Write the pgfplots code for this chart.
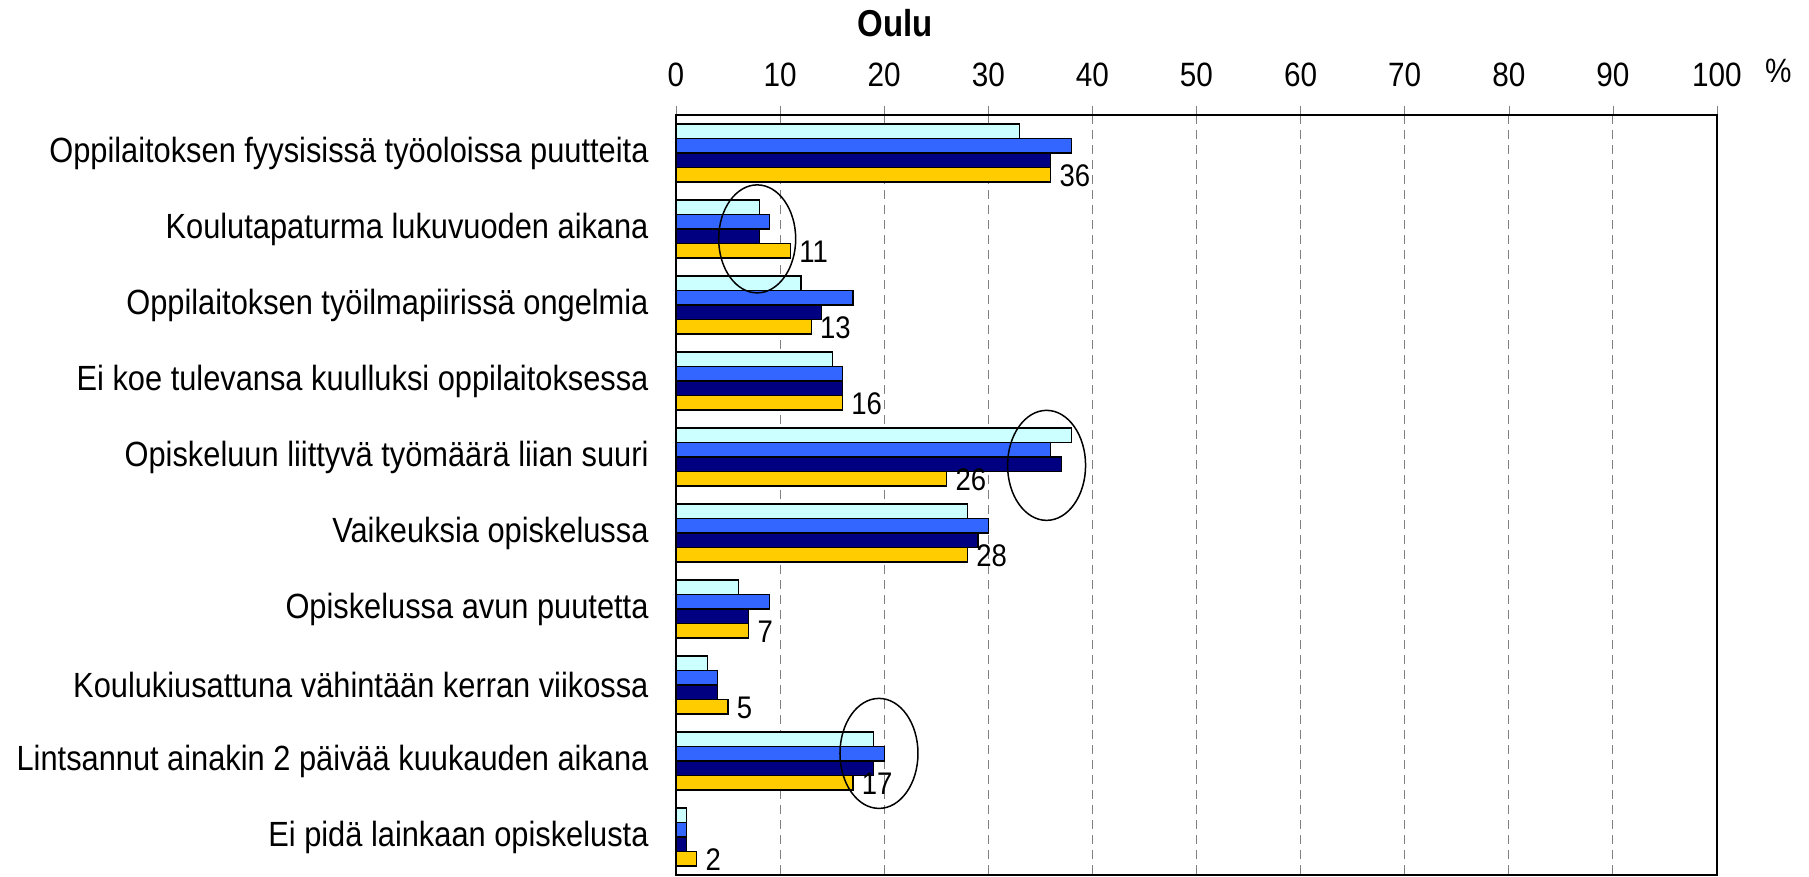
\documentclass[border=0pt]{standalone}
\usepackage{pgfplots}
\pgfplotsset{compat=1.18}
\usepackage{fontspec}
\setmainfont{Liberation Sans}[FakeStretch=0.88]
\definecolor{cA}{RGB}{204,255,255}
\definecolor{cB}{RGB}{51,102,255}
\definecolor{cC}{RGB}{0,0,128}
\definecolor{cD}{RGB}{255,204,0}
\begin{document}
\begin{tikzpicture}
\begin{axis}[
  scale only axis, width=416.4pt, height=304pt,
  bar width=5.8pt,
  xmin=0, xmax=100, ymin=-0.5, ymax=9.5, y dir=reverse,
  clip=false,
  xtick={0,10,...,100},
  xtick pos=top, xticklabel pos=top,
  tick align=outside, major tick length=3.6pt,
  xticklabel style={anchor=base, yshift=7.8pt, font=\fontsize{13.5}{15}\selectfont},
  ytick={0,...,9},
  yticklabels={Oppilaitoksen fyysisissä työoloissa puutteita,
    Koulutapaturma lukuvuoden aikana,
    Oppilaitoksen työilmapiirissä ongelmia,
    Ei koe tulevansa kuulluksi oppilaitoksessa,
    Opiskeluun liittyvä työmäärä liian suuri,
    Vaikeuksia opiskelussa,
    Opiskelussa avun puutetta,
    Koulukiusattuna vähintään kerran viikossa,
    Lintsannut ainakin 2 päivää kuukauden aikana,
    Ei pidä lainkaan opiskelusta},
  yticklabel style={inner sep=0pt, xshift=-7.2pt, font=\fontsize{14}{16}\selectfont},
  ytick style={draw=none},
  /pgf/number format/assume math mode=true,
  xmajorgrids, grid style={gray, dash pattern=on 3.5pt off 2.5pt},
  axis line style={black, line width=0.6pt},
  every axis plot/.append style={xbar, draw=black, line width=0.5pt},
]
\addplot[fill=cA, bar shift=8.7pt] coordinates {(33,0) (8,1) (12,2) (15,3) (38,4) (28,5) (6,6) (3,7) (19,8) (1,9)};
\addplot[fill=cB, bar shift=2.9pt] coordinates {(38,0) (9,1) (17,2) (16,3) (36,4) (30,5) (9,6) (4,7) (20,8) (1,9)};
\addplot[fill=cC, bar shift=-2.9pt] coordinates {(36,0) (8,1) (14,2) (16,3) (37,4) (29,5) (7,6) (4,7) (19,8) (1,9)};
\addplot[fill=cD, bar shift=-8.7pt, nodes near coords,
  every node near coord/.style={anchor=west, inner sep=0pt, xshift=3.3pt, yshift=-9.2pt, font=\fontsize{12.5}{14}\selectfont, text=black}]
  coordinates {(36,0) (11,1) (13,2) (16,3) (26,4) (28,5) (7,6) (5,7) (17,8) (2,9)};
\draw[line width=0.6pt] (axis cs:7.8,1.13) ellipse [x radius=15.4pt, y radius=21.6pt];
\draw[line width=0.6pt] (axis cs:35.6,4.11) ellipse [x radius=15.6pt, y radius=22pt];
\draw[line width=0.6pt] (axis cs:19.5,7.9) ellipse [x radius=15.6pt, y radius=22pt];
\end{axis}
\node[font=\bfseries\fontsize{15}{17}\selectfont] at ([xshift=87.6pt, yshift=36.8pt]current axis.north west) {Oulu};
\node[anchor=base west, font=\fontsize{13.5}{15}\selectfont, inner sep=0pt] at ([xshift=19pt, yshift=13pt]current axis.north east) {\%};
\pgfresetboundingbox
\path ([xshift=-270.4pt,yshift=-0.8pt]current axis.south west) rectangle ([xshift=36.8pt, yshift=46pt]current axis.north east);
\end{tikzpicture}
\end{document}
